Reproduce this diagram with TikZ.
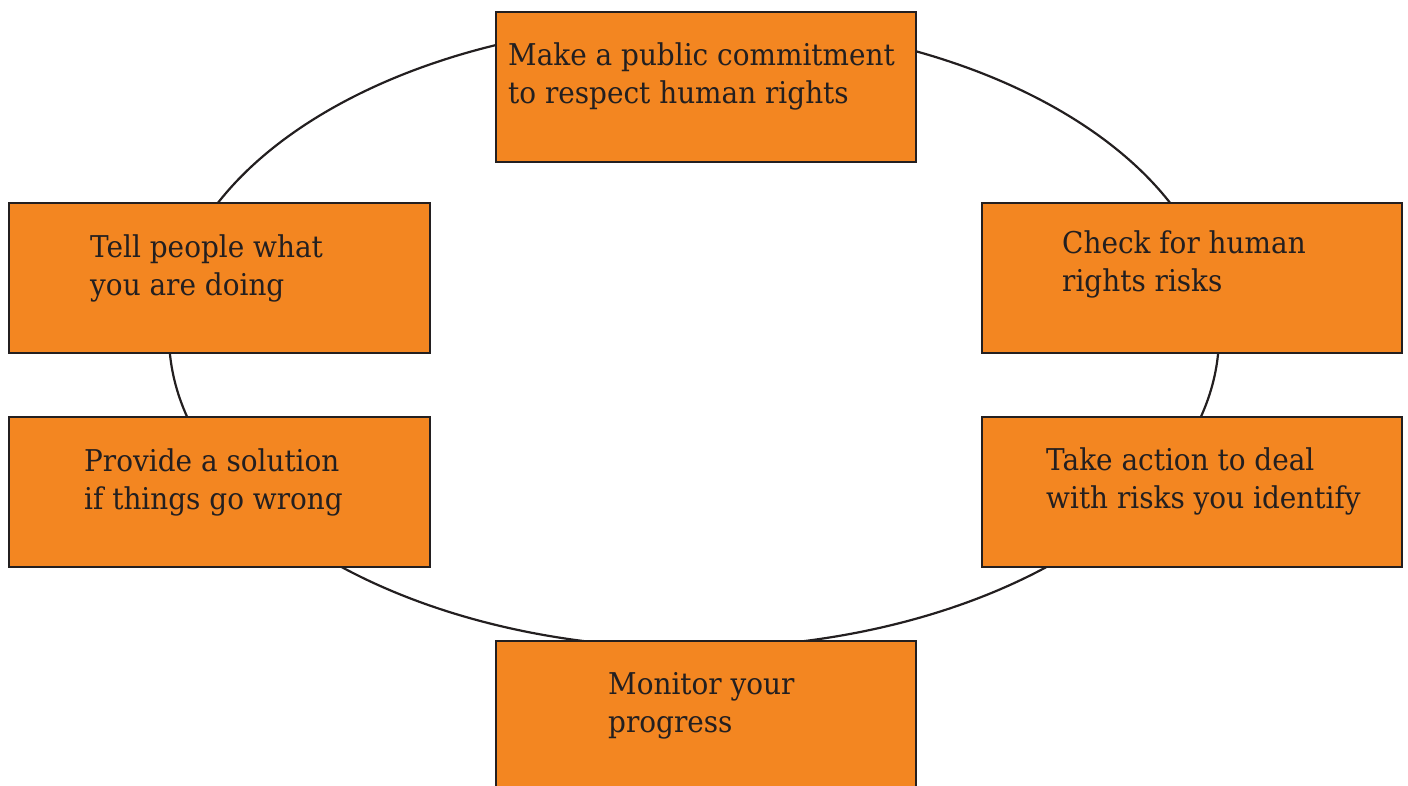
\documentclass[tikz,border=0pt]{standalone}
\usepackage{fontspec}
\setmainfont{DejaVu Serif}[FakeStretch=0.93]
\definecolor{boxorange}{HTML}{F38621}
\definecolor{ink}{HTML}{231F20}
\begin{document}
\begin{tikzpicture}[x=1pt,y=-1pt,
  stepbox/.style={draw=ink, line width=2.4pt, fill=boxorange, rectangle, inner sep=0pt},
  label/.style={anchor=base west, inner sep=0pt, align=left, text=ink,
    font=\fontsize{30}{38}\selectfont}]
\useasboundingbox (0,0) rectangle (1408,785);
\clip (0,0) rectangle (1408,785);
% cycle
\draw[ink, line width=2.2pt] (694,335) ellipse [x radius=525pt, y radius=313pt];
% boxes
\node[stepbox, minimum width=420pt, minimum height=150pt] (top) at (706,87) {};
\node[stepbox, minimum width=421pt, minimum height=150pt] (lu) at (219.5,278) {};
\node[stepbox, minimum width=420pt, minimum height=150pt] (ru) at (1192,278) {};
\node[stepbox, minimum width=421pt, minimum height=150pt] (ll) at (219.5,492) {};
\node[stepbox, minimum width=420pt, minimum height=150pt] (rl) at (1192,492) {};
\node[stepbox, minimum width=420pt, minimum height=170pt] (bot) at (706,726) {};
% texts (anchored at the baseline of the last line)
\node[label] (ttop) at (508,103) {Make a public commitment\\to respect human rights};
\node[label] (tlu) at (90,295) {Tell people what\\you are doing};
\node[label] (tru) at (1062,291) {Check for human\\rights risks};
\node[label] (tll) at (84,509) {Provide a solution\\if things go wrong};
\node[label] (trl) at (1046,508) {Take action to deal\\with risks you identify};
\node[label] (tbot) at (608,732) {Monitor your\\progress};
\end{tikzpicture}
\end{document}
